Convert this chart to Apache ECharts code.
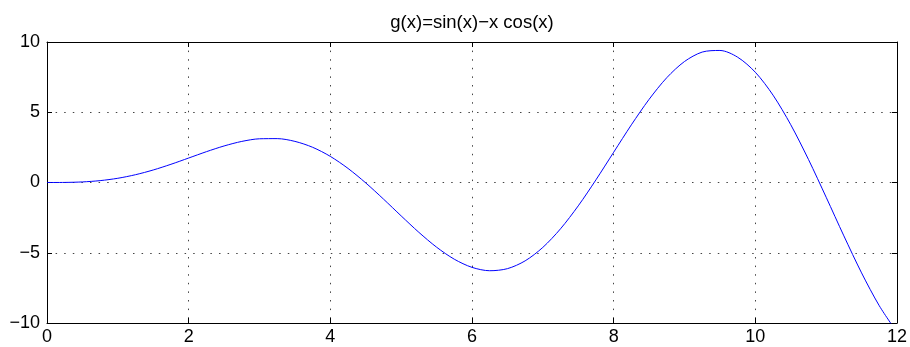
<!DOCTYPE html>
<html>
<head>
<meta charset="utf-8">
<script src="https://cdn.jsdelivr.net/npm/echarts@6/dist/echarts.min.js"></script>
<style>
html, body { margin: 0; padding: 0; background: #fff; }
#chart { width: 910px; height: 347px; }
</style>
</head>
<body>
<div id="chart"></div>
<script>
// values, step 0.25
let xs = [0, 0.25, 0.5, 0.75, 1, 1.25, 1.5, 1.75, 2, 2.25, 2.5, 2.75, 3, 3.25, 3.5, 3.75, 4, 4.25, 4.5, 4.75,
    5, 5.25, 5.5, 5.75, 6, 6.25, 6.5, 6.75, 7, 7.25, 7.5, 7.75, 8, 8.25, 8.5, 8.75, 9, 9.25, 9.5, 9.75,
    10, 10.25, 10.5, 10.75, 11, 11.25, 11.5, 11.75, 12];
let gs = [0, 0.005, 0.041, 0.133, 0.301, 0.555, 0.891, 1.296, 1.742, 2.192, 2.601, 2.924, 3.111, 3.123, 2.927, 2.506, 1.858, 1.001, -0.029, -1.178,
    -2.377, -3.547, -4.603, -5.460, -6.040, -6.280, -6.133, -5.578, -4.620, -3.294, -1.662, 0.190, 2.153, 4.105, 5.916, 7.460, 8.612, 9.283, 9.398, 8.920,
    7.847, 6.217, 4.113, 1.644, -1.049, -3.798, -6.434, -8.772, -10.663];
let xTicks = [0, 2, 4, 6, 8, 10, 12];
let yTicks = [-10, -5, 0, 5, 10];
let titleText = 'g(x)=sin(x)\u2212x cos(x)';

let pts = xs.map((x, i) => [x, gs[i]]);
let fmt = v => String(v).replace('-', '\u2212');
let font = 'Liberation Sans, Arial, Helvetica, sans-serif';

let grid = { left: 47, right: 11, top: 42, bottom: 24 };
let dotted = { show: true, lineStyle: { color: '#444', type: [1.5, 7.1], width: 1 } };
let tick = { show: true, inside: true, length: 5, lineStyle: { color: '#000' } };

let myChart = echarts.init(document.getElementById('chart'));
myChart.setOption({
    animation: false,
    title: {
        text: titleText,
        left: 472,
        textAlign: 'center',
        top: 13,
        padding: 0,
        textStyle: { fontFamily: font, fontSize: 18.5, fontWeight: 'normal', color: '#000' }
    },
    grid: grid,
    xAxis: [{
        type: 'value', min: xTicks[0], max: xTicks[xTicks.length - 1], interval: 2,
        axisLine: { show: true, onZero: false, lineStyle: { color: '#000', width: 1 } },
        axisTick: tick,
        splitLine: dotted,
        axisLabel: { color: '#000', fontFamily: font, fontSize: 18, margin: 5, formatter: fmt }
    }, {
        type: 'value', position: 'top', min: xTicks[0], max: xTicks[xTicks.length - 1], interval: 2,
        axisLine: { show: true, onZero: false, lineStyle: { color: '#000', width: 1 } },
        axisTick: tick,
        splitLine: { show: false },
        axisLabel: { show: false }
    }],
    yAxis: [{
        type: 'value', min: yTicks[0], max: yTicks[yTicks.length - 1], interval: 5,
        axisLine: { show: true, onZero: false, lineStyle: { color: '#000', width: 1 } },
        axisTick: tick,
        splitLine: dotted,
        axisLabel: { color: '#000', fontFamily: font, fontSize: 18, margin: 7, formatter: fmt }
    }, {
        type: 'value', position: 'right', min: yTicks[0], max: yTicks[yTicks.length - 1], interval: 5,
        axisLine: { show: true, onZero: false, lineStyle: { color: '#000', width: 1 } },
        axisTick: tick,
        splitLine: { show: false },
        axisLabel: { show: false }
    }],
    series: [{
        type: 'line',
        data: pts,
        smooth: 0.3,
        showSymbol: false,
        clip: true,
        lineStyle: { color: '#0000ff', width: 1 }
    }]
});
</script>
</body>
</html>
